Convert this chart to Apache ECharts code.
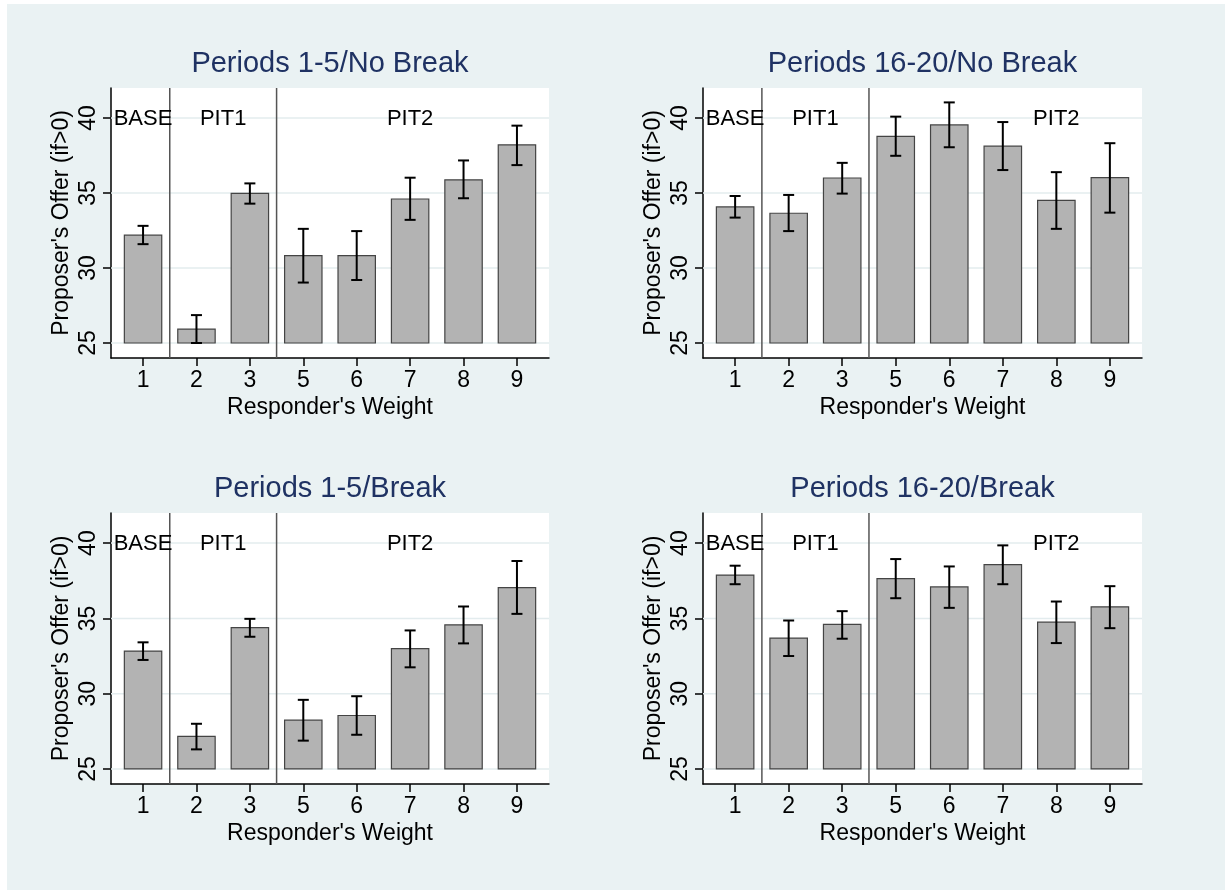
<!DOCTYPE html>
<html>
<head>
<meta charset="utf-8">
<script src="https://cdn.jsdelivr.net/npm/echarts@6/dist/echarts.min.js"></script>
<style>
  html, body { margin: 0; padding: 0; background: #ffffff; }
  #wrap { position: relative; width: 1225px; height: 890px; overflow: hidden; }
  #bg { position: absolute; left: 7px; top: 4px; right: 0; bottom: 0; background: #eaf2f3; }
  #chart { position: absolute; left: 0; top: 0; width: 1225px; height: 890px; }
</style>
</head>
<body>
<div id="wrap"><div id="bg"></div><div id="chart"></div></div>
<script>
// ---- data ----
const categories = ['1', '2', '3', '5', '6', '7', '8', '9'];
const yTicks = [25, 30, 35, 40];
const groupLabels = ['BASE', 'PIT1', 'PIT2'];
const groupCentersLeft = [1, 2.5, 6];
const groupCentersRight = [1, 2.5, 7];
const groupLabelY = 40;
const groupSeparators = [1.5, 3.5];
const panelTitles = ['Periods 1-5/No Break', 'Periods 16-20/No Break', 'Periods 1-5/Break', 'Periods 16-20/Break'];

const p1Mean = [32.19, 25.93, 34.98, 30.82, 30.82, 34.60, 35.88, 38.21];
const p1Low  = [31.59, 25.00, 34.29, 29.03, 29.20, 33.21, 34.65, 36.86];
const p1High = [32.81, 26.86, 35.64, 32.61, 32.46, 36.02, 37.17, 39.49];

const p2Mean = [34.07, 33.65, 36.00, 38.78, 39.54, 38.12, 34.51, 36.02];
const p2Low  = [33.36, 32.46, 34.96, 37.48, 38.05, 36.53, 32.61, 33.69];
const p2High = [34.80, 34.87, 37.01, 40.09, 41.04, 39.73, 36.39, 38.32];

const p3Mean = [32.83, 27.16, 34.38, 28.24, 28.55, 32.99, 34.57, 37.05];
const p3Low  = [32.24, 26.30, 33.78, 26.88, 27.27, 31.75, 33.34, 35.30];
const p3High = [33.41, 28.00, 34.97, 29.59, 29.83, 34.20, 35.79, 38.81];

const p4Mean = [37.88, 33.69, 34.60, 37.64, 37.09, 38.57, 34.75, 35.77];
const p4Low  = [37.27, 32.50, 33.65, 36.34, 35.70, 37.27, 33.36, 34.35];
const p4High = [38.50, 34.86, 35.48, 38.94, 38.45, 39.85, 36.12, 37.14];

const panels = [
  { mean: p1Mean, low: p1Low, high: p1High, centers: groupCentersLeft },
  { mean: p2Mean, low: p2Low, high: p2High, centers: groupCentersRight },
  { mean: p3Mean, low: p3Low, high: p3High, centers: groupCentersLeft },
  { mean: p4Mean, low: p4Low, high: p4High, centers: groupCentersRight }
];

// ---- layout ----
const FONT = "'Liberation Sans', Arial, Helvetica, sans-serif";
const grids = [
  { left: 111, top: 88, width: 438, height: 270 },
  { left: 703, top: 88, width: 439, height: 270 },
  { left: 111, top: 513, width: 438, height: 271 },
  { left: 703, top: 513, width: 439, height: 271 }
];
const X_MIN = 0.4, X_MAX = 8.6, Y_MIN = 24, Y_MAX = 42;
const BAR_BASE = 25;
const BAR_WIDTH = 0.7;
const xPos = categories.map((c, i) => i + 1);

const chart = echarts.init(document.getElementById('chart'), null, { renderer: 'canvas' });

const option = {
  backgroundColor: 'transparent',
  animation: false,
  grid: grids.map(g => Object.assign({ show: true, backgroundColor: '#ffffff', borderWidth: 0, containLabel: false }, g)),
  graphic: grids.map((g, i) => ({
    type: 'text',
    x: g.left + g.width / 2,
    y: g.top - 24,
    style: {
      text: panelTitles[i],
      font: '29px ' + FONT,
      fill: '#1f3263',
      align: 'center',
      verticalAlign: 'middle'
    }
  })),
  xAxis: grids.map((g, i) => ({
    type: 'value',
    gridIndex: i,
    min: X_MIN,
    max: X_MAX,
    name: "Responder's Weight",
    nameLocation: 'middle',
    nameGap: 38,
    nameTextStyle: { fontFamily: FONT, fontSize: 23, color: '#000' },
    axisLine: { show: true, onZero: false, lineStyle: { color: '#000', width: 1.5 } },
    axisTick: { show: true, length: 8, customValues: xPos, lineStyle: { color: '#000', width: 1.5 } },
    axisLabel: {
      show: true,
      customValues: xPos,
      margin: 11,
      fontFamily: FONT,
      fontSize: 23,
      color: '#000',
      formatter: v => categories[Math.round(v) - 1]
    },
    splitLine: { show: false }
  })),
  yAxis: grids.map((g, i) => ({
    type: 'value',
    gridIndex: i,
    min: Y_MIN,
    max: Y_MAX,
    name: "Proposer's Offer (if>0)",
    nameLocation: 'middle',
    nameGap: 38,
    nameRotate: 90,
    nameTextStyle: { fontFamily: FONT, fontSize: 23, color: '#000' },
    axisLine: { show: true, lineStyle: { color: '#000', width: 1.5 } },
    axisTick: { show: true, length: 8, customValues: yTicks, lineStyle: { color: '#000', width: 1.5 } },
    axisLabel: {
      show: true,
      customValues: yTicks,
      rotate: 90,
      margin: 11,
      fontFamily: FONT,
      fontSize: 23,
      color: '#000'
    },
    splitLine: { show: false }
  })),
  series: []
};

panels.forEach((p, i) => {
  // gridlines (type 0) + group separators (type 1)
  const refData = yTicks.map(v => [0, v]).concat(groupSeparators.map(v => [1, v]));
  option.series.push({
    type: 'custom',
    xAxisIndex: i,
    yAxisIndex: i,
    silent: true,
    z: 1,
    data: refData,
    encode: { x: 1, y: 1 },
    renderItem: function (params, api) {
      const kind = api.value(0), v = api.value(1);
      let a, b, color;
      if (kind === 0) {
        a = api.coord([X_MIN, v]); b = api.coord([X_MAX, v]); color = '#e3ecee';
      } else {
        a = api.coord([v, Y_MIN]); b = api.coord([v, Y_MAX]); color = '#555555';
      }
      return {
        type: 'line',
        shape: { x1: a[0], y1: a[1], x2: b[0], y2: b[1] },
        style: { stroke: color, lineWidth: 1.5 }
      };
    }
  });
  // bars + error bars
  option.series.push({
    type: 'custom',
    xAxisIndex: i,
    yAxisIndex: i,
    data: xPos.map((x, k) => [x, p.mean[k], p.low[k], p.high[k]]),
    encode: { x: 0, y: [1, 2, 3] },
    z: 3,
    renderItem: function (params, api) {
      const x = api.value(0), y = api.value(1), lo = api.value(2), hi = api.value(3);
      const base = api.coord([x, BAR_BASE]);
      const top = api.coord([x, y]);
      const w = api.size([BAR_WIDTH, 0])[0];
      const pLo = api.coord([x, lo]);
      const pHi = api.coord([x, hi]);
      const cap = 5.5;
      return {
        type: 'group',
        children: [
          {
            type: 'rect',
            shape: { x: base[0] - w / 2, y: top[1], width: w, height: base[1] - top[1] },
            style: { fill: '#b3b3b3', stroke: '#444444', lineWidth: 1.2 }
          },
          {
            type: 'line',
            shape: { x1: pLo[0], y1: pLo[1], x2: pHi[0], y2: pHi[1] },
            style: { stroke: '#000', lineWidth: 2 }
          },
          {
            type: 'line',
            shape: { x1: pHi[0] - cap, y1: pHi[1], x2: pHi[0] + cap, y2: pHi[1] },
            style: { stroke: '#000', lineWidth: 2 }
          },
          {
            type: 'line',
            shape: { x1: pLo[0] - cap, y1: pLo[1], x2: pLo[0] + cap, y2: pLo[1] },
            style: { stroke: '#000', lineWidth: 2 }
          }
        ]
      };
    }
  });
  // group labels
  option.series.push({
    type: 'custom',
    xAxisIndex: i,
    yAxisIndex: i,
    silent: true,
    z: 5,
    data: groupLabels.map((t, k) => [p.centers[k], groupLabelY, k]),
    encode: { x: 0, y: 1 },
    renderItem: function (params, api) {
      const pt = api.coord([api.value(0), api.value(1)]);
      return {
        type: 'text',
        x: pt[0],
        y: pt[1] + 1,
        style: {
          text: groupLabels[api.value(2)],
          font: '22px ' + FONT,
          fill: '#000',
          align: 'center',
          verticalAlign: 'middle'
        }
      };
    }
  });
});

chart.setOption(option);
</script>
</body>
</html>
